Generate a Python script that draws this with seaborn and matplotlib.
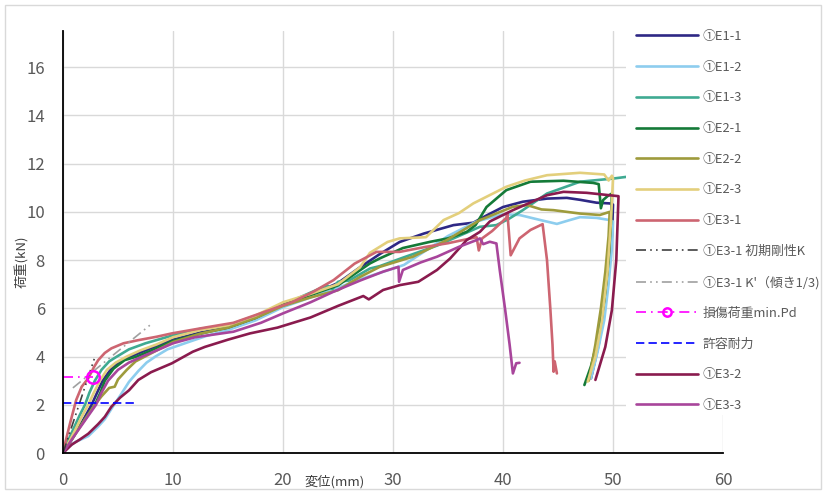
import numpy as np
import pandas as pd
import matplotlib
matplotlib.use("Agg")
import matplotlib.pyplot as plt
from matplotlib.patches import Rectangle
from matplotlib.lines import Line2D
import seaborn as sns

# ===== DATA (displacement mm, load kN) =====
e1_1_x = [0, 1, 2, 2.6, 3.1, 3.6, 4.4, 5.4, 6.4, 8, 10, 12.5, 15, 17.5, 20, 22.5, 25, 27, 28.8, 30.6,
          32.8, 35.5, 37.3, 38.5, 40, 41.8, 44, 45.8, 47, 48.5, 49.7, 50.0, 49.9, 49.6, 49.2, 48.7, 48.0]
e1_1_y = [0, 0.7, 1.5, 2.0, 2.5, 3.0, 3.5, 3.85, 4.05, 4.35, 4.7, 5.0, 5.2, 5.55, 6.1, 6.55, 7.05, 7.7, 8.25, 8.75,
          9.1, 9.45, 9.55, 9.85, 10.2, 10.42, 10.55, 10.58, 10.5, 10.38, 10.35, 10.3, 9.0, 7.5, 6.0, 4.5, 3.1]

e1_2_x = [0, 0.5, 1.1, 2.3, 3.2, 3.8, 4.5, 5.3, 6.0, 6.85, 7.6, 8.4, 9.5, 11.4, 13, 15, 17.5, 20, 22.5, 25,
          27, 29, 31, 33, 35, 37.6, 40, 41.5, 43.4, 44.9, 46, 47, 48.5, 49.7, 50.0, 49.9, 49.6, 49.2, 48.6, 48.0]
e1_2_y = [0, 0.25, 0.45, 0.7, 1.1, 1.4, 1.9, 2.45, 2.95, 3.4, 3.75, 4.0, 4.3, 4.6, 4.85, 5.1, 5.5, 6.05, 6.45, 6.85,
          7.2, 7.5, 7.8, 8.4, 9.0, 9.6, 9.9, 9.87, 9.66, 9.5, 9.65, 9.78, 9.75, 9.66, 9.6, 8.5, 7.0, 5.5, 4.2, 3.1]

e1_3_x = [0, 0.5, 1, 1.5, 2, 2.4, 2.9, 3.5, 4.2, 4.9, 6, 7.5, 10, 12.5, 15, 17.5, 20, 22.5, 24, 24.5, 25, 26,
          27.9, 28.8, 30.9, 34, 36, 37.9, 39.4, 40.5, 41.8, 44, 47, 50, 51.2]
e1_3_y = [0, 0.55, 1.05, 1.55, 2.0, 2.5, 3.0, 3.45, 3.8, 4.0, 4.3, 4.55, 4.88, 5.15, 5.3, 5.65, 6.15, 6.65, 6.95, 6.8, 7.1, 7.15,
          7.65, 7.75, 8.1, 8.6, 9.0, 9.38, 9.45, 9.7, 10.07, 10.76, 11.25, 11.38, 11.45]

e2_1_x = [0, 1, 2, 2.9, 3.4, 3.8, 4.6, 5.6, 6.7, 8, 10, 12.5, 15, 17.5, 20, 22.5, 25, 27.9, 28.8, 30.9, 33.4,
          35, 36.7, 37.5, 38.5, 40.3, 42.5, 45.5, 48.2, 48.7, 48.9, 49.1, 49.5, 49.9, 49.8, 49.6, 49.2, 48.6, 48.0, 47.4]
e2_1_y = [0, 0.75, 1.4, 2.0, 2.5, 3.0, 3.5, 3.85, 4.0, 4.25, 4.65, 4.95, 5.2, 5.6, 6.15, 6.55, 6.95, 7.86, 8.07, 8.5, 8.76,
          8.9, 9.17, 9.45, 10.2, 10.9, 11.25, 11.29, 11.2, 11.15, 10.15, 10.49, 10.65, 10.76, 9.5, 8.0, 6.3, 4.7, 3.6, 2.82]

e2_2_x = [0, 1, 2, 2.9, 3.5, 4.2, 4.7, 5, 5.8, 6.6, 7.45, 8.5, 10, 12.5, 15, 17.5, 20, 22.5, 25, 27, 28.8, 31.8,
          34.9, 37.9, 40.9, 42.2, 43.5, 44.6, 47, 48.8, 49.7, 49.6, 49.3, 48.9, 48.4, 47.8]
e2_2_y = [0, 0.7, 1.4, 2.0, 2.35, 2.7, 2.75, 3.05, 3.45, 3.8, 4.0, 4.25, 4.6, 4.95, 5.2, 5.6, 6.1, 6.45, 6.75, 7.3, 7.72, 8.14,
          8.83, 9.66, 10.21, 10.28, 10.1, 10.07, 9.93, 9.87, 10.0, 9.0, 7.5, 6.0, 4.5, 3.0]

e2_3_x = [0, 1, 1.7, 2.3, 2.8, 3.36, 4.0, 4.8, 5.8, 7, 8.5, 10, 12.5, 15, 17.5, 20, 22.5, 25, 27, 27.9, 29.5,
          30.6, 33, 34.6, 36.0, 37.3, 40.3, 42, 44, 47, 49.2, 49.6, 49.9, 50.0, 49.8, 49.5, 49.0, 48.4, 47.7]
e2_3_y = [0, 0.85, 1.5, 2.0, 2.5, 3.0, 3.45, 3.75, 4.0, 4.25, 4.5, 4.8, 5.1, 5.3, 5.7, 6.25, 6.6, 7.0, 7.7, 8.3, 8.75,
          8.9, 8.95, 9.66, 9.95, 10.35, 11.04, 11.3, 11.52, 11.62, 11.55, 11.3, 11.5, 11.4, 9.5, 7.5, 5.5, 4.0, 2.96]

e3_1_x = [0, 0.3, 0.64, 1.2, 1.7, 2.3, 2.8, 3.2, 3.8, 4.4, 5.5, 6.85, 8.5, 9.9, 12.9, 15.5, 18, 20.9, 22.8, 24.6,
          26.5, 28.5, 30.6, 33, 35, 37.6, 37.8, 38.1, 39, 40.3, 40.4, 40.7, 41.5, 42.5, 43.6, 44.0, 44.3, 44.5,
          44.6, 44.7, 44.9]
e3_1_y = [0, 0.6, 1.23, 2.2, 2.75, 3.1, 3.55, 3.85, 4.15, 4.34, 4.55, 4.68, 4.82, 4.96, 5.2, 5.4, 5.8, 6.27, 6.7, 7.17,
          7.85, 8.34, 8.34, 8.55, 8.7, 8.95, 8.4, 8.9, 9.2, 9.75, 9.95, 8.2, 8.9, 9.25, 9.49, 8.0, 6.0, 4.5,
          3.37, 3.8, 3.3]

e3_2_x = [0, 0.8, 1.5, 2.3, 3.2, 3.8, 4.4, 5.2, 6.0, 6.85, 8, 9.9, 11.8, 12.9, 15, 17, 19.5, 22.5, 25, 27.3,
          27.8, 29.1, 30.6, 32.3, 34, 35.2, 36.7, 37.9, 38.8, 40.9, 44, 45.5, 47.6, 50.5, 50.3, 49.9, 49.3, 48.4]
e3_2_y = [0, 0.35, 0.55, 0.8, 1.2, 1.5, 1.92, 2.3, 2.6, 3.03, 3.35, 3.72, 4.2, 4.4, 4.7, 4.96, 5.2, 5.62, 6.1, 6.51,
          6.37, 6.76, 6.96, 7.1, 7.59, 8.07, 8.83, 9.17, 9.6, 10.07, 10.69, 10.83, 10.79, 10.65, 8.0, 5.93, 4.4, 3.03]

e3_3_x = [0, 1, 2, 3, 3.5, 4.1, 5, 6, 7.2, 8.5, 10, 12, 15.5, 18, 20, 22.5, 24.6, 27, 29.1, 30.5, 30.55, 30.9,
          32.5, 34, 36, 37.6, 37.9, 38.2, 38.8, 39.4, 39.7, 40.2, 40.6, 40.9, 41.2, 41.5]
e3_3_y = [0, 0.7, 1.35, 2.0, 2.5, 3.0, 3.45, 3.75, 4.0, 4.25, 4.55, 4.8, 5.03, 5.4, 5.79, 6.25, 6.69, 7.15, 7.52, 7.72, 7.1, 7.59,
          7.9, 8.14, 8.55, 8.83, 8.9, 8.66, 8.76, 8.69, 7.6, 5.93, 4.5, 3.3, 3.72, 3.74]

# reference lines for E3-1
k_x = [0, 2.95]
k_y = [0, 4.05]
k3_x = [0.9, 7.9]
k3_y = [2.7, 5.3]
pd_x = [0, 2.7]
pd_y = [3.14, 3.14]
pa_x = [0, 6.7]
pa_y = [2.06, 2.06]

series = [
    ("①E1-1", e1_1_x, e1_1_y, "#2E2885"),
    ("①E1-2", e1_2_x, e1_2_y, "#8DCDEE"),
    ("①E1-3", e1_3_x, e1_3_y, "#3FAA92"),
    ("①E2-1", e2_1_x, e2_1_y, "#147A38"),
    ("①E2-2", e2_2_x, e2_2_y, "#9E9B3C"),
    ("①E2-3", e2_3_x, e2_3_y, "#E3CF7C"),
    ("①E3-1", e3_1_x, e3_1_y, "#CD6571"),
    ("①E3-2", e3_2_x, e3_2_y, "#8A1B4E"),
    ("①E3-3", e3_3_x, e3_3_y, "#A8459B"),
]

sns.set_style("white")
plt.rcParams["font.family"] = ["Noto Sans CJK JP", "DejaVu Sans"]

fig, ax = plt.subplots(figsize=(8.26, 4.93), dpi=100)
fig.subplots_adjust(left=63 / 826, right=723 / 826, bottom=40 / 493, top=462 / 493)

handles = {}
for name, xs, ys, col in series:
    d = pd.DataFrame({"x": xs, "y": ys})
    sns.lineplot(data=d, x="x", y="y", ax=ax, color=col, lw=1.9, sort=False, estimator=None)
    handles[name] = Line2D([], [], color=col, lw=1.9)

dashdotdot = (0, (6, 2.5, 1, 2.5, 1, 2.5))
ax.plot(k_x, k_y, color="#404040", lw=1.2, ls=dashdotdot)
ax.plot(k3_x, k3_y, color="#A0A0A0", lw=1.2, ls=dashdotdot)
ax.plot(pd_x, pd_y, color="#FF00FF", lw=1.2, ls=(0, (6, 3, 1, 3)))
ax.plot(pd_x[1:], pd_y[1:], marker="o", ms=9, mfc="none", mec="#FF00FF", mew=1.8, ls="none")
ax.plot(pa_x, pa_y, color="#0000FF", lw=1.2, ls=(0, (5, 2.5)))

handles["①E3-1 初期剛性K"] = Line2D([], [], color="#404040", lw=1.2, ls=dashdotdot)
handles["①E3-1 K'（傾き1/3)"] = Line2D([], [], color="#A0A0A0", lw=1.2, ls=dashdotdot)
handles["損傷荷重min.Pd"] = Line2D([], [], color="#FF00FF", lw=1.2, ls=(0, (6, 3, 1, 3)),
                                 marker="o", ms=6, mfc="none", mec="#FF00FF", mew=1.8, markevery=[1])
handles["許容耐力"] = Line2D([], [], color="#0000FF", lw=1.2, ls=(0, (5, 2.5)))

order = ["①E1-1", "①E1-2", "①E1-3", "①E2-1", "①E2-2", "①E2-3", "①E3-1",
         "①E3-1 初期剛性K", "①E3-1 K'（傾き1/3)", "損傷荷重min.Pd", "許容耐力", "①E3-2", "①E3-3"]

ax.set_xlim(0, 60)
ax.set_ylim(0, 17.5)
ax.set_xticks(range(0, 61, 10))
ax.set_yticks(range(0, 17, 2))
ax.grid(True, color="#D9D9D9", lw=1)
for s in ["top", "right"]:
    ax.spines[s].set_visible(False)
for s in ["left", "bottom"]:
    ax.spines[s].set_color("black")
    ax.spines[s].set_linewidth(1.3)
ax.tick_params(axis="y", length=0, pad=13, labelsize=12, labelcolor="#595959")
ax.tick_params(axis="x", length=0, pad=14, labelsize=12, labelcolor="#595959")
ax.set_xlabel("")
ax.set_ylabel("")

fig.text(22 / 826, 1 - 262 / 493, "荷重(kN)", rotation=90, ha="center", va="center",
         fontsize=9.5, color="#404040")
fig.text(335 / 826, 1 - 482 / 493, "変位(mm)", ha="center", va="center", fontsize=9.5, color="#404040")

# white legend area over the plot
ax.add_patch(Rectangle((626 / 826, 78 / 493), 194 / 826, 397 / 493, transform=fig.transFigure,
                       clip_on=False, facecolor="white", edgecolor="none", zorder=4))
leg = ax.legend([handles[k] for k in order], order, loc="upper left",
                bbox_to_anchor=(636 / 826, 1 - 30 / 493), bbox_transform=fig.transFigure,
                frameon=False, fontsize=9.3, handlelength=4.8, handletextpad=0.38,
                labelspacing=1.37, borderpad=0, borderaxespad=0)
leg.set_zorder(5)
for t in leg.get_texts():
    t.set_color("#595959")

fig.patches.append(Rectangle((5 / 826, 4 / 493), 816 / 826, 484 / 493, transform=fig.transFigure,
                             fill=False, edgecolor="#D9D9D9", lw=1))

fig.savefig("out.png", dpi=100)
plt.close()
